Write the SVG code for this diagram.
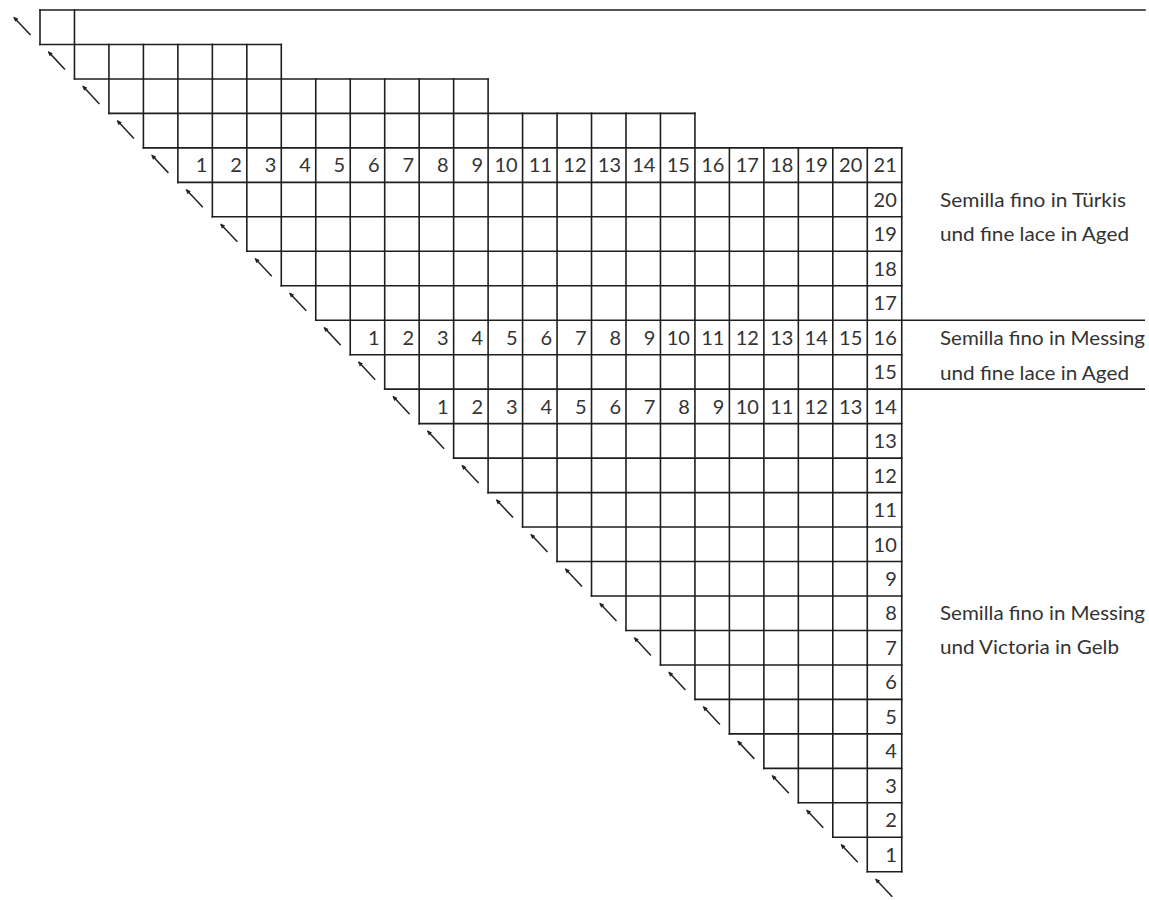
<svg xmlns="http://www.w3.org/2000/svg" width="1149" height="900" viewBox="0 0 1149 900">
<style>
.g line{stroke:#1e1e1e;stroke-width:1.6;stroke-linecap:square}
.sep{stroke:#1e1e1e;stroke-width:1.6}
.n{font-family:Lato,"Open Sans","Liberation Sans",sans-serif;font-size:20px;fill:#333;text-anchor:end}
.lbl{font-family:Lato,"Open Sans","Liberation Sans",sans-serif;font-size:20px;fill:#333}
.arr{stroke:#222;stroke-width:1.5}
</style>
<defs>
<marker id="ah" viewBox="0 0 10 10" refX="8" refY="5" markerWidth="6" markerHeight="5" orient="auto" markerUnits="userSpaceOnUse">
<path d="M0,0.5 L10,5 L0,9.5 z" fill="#222"/>
</marker>
<line id="arw" class="arr" x1="-9.5" y1="25" x2="-26" y2="7.4" marker-end="url(#ah)"/>
</defs>
<rect width="1149" height="900" fill="#fff"/>

<g id="grid" class="g">
<!-- horizontal -->
<line x1="40" y1="10" x2="1145" y2="10"/>
<line x1="40" y1="44.47" x2="281.29" y2="44.47"/>
<line x1="74.47" y1="78.94" x2="488.11" y2="78.94"/>
<line x1="108.94" y1="113.41" x2="694.93" y2="113.41"/>
<line x1="143.41" y1="147.88" x2="901.75" y2="147.88"/>
<line x1="177.88" y1="182.35" x2="901.75" y2="182.35"/>
<line x1="212.35" y1="216.82" x2="901.75" y2="216.82"/>
<line x1="246.82" y1="251.29" x2="901.75" y2="251.29"/>
<line x1="281.29" y1="285.76" x2="901.75" y2="285.76"/>
<line x1="315.76" y1="320.23" x2="901.75" y2="320.23"/>
<line x1="350.23" y1="354.70" x2="901.75" y2="354.70"/>
<line x1="384.70" y1="389.17" x2="901.75" y2="389.17"/>
<line x1="419.17" y1="423.64" x2="901.75" y2="423.64"/>
<line x1="453.64" y1="458.11" x2="901.75" y2="458.11"/>
<line x1="488.11" y1="492.58" x2="901.75" y2="492.58"/>
<line x1="522.58" y1="527.05" x2="901.75" y2="527.05"/>
<line x1="557.05" y1="561.52" x2="901.75" y2="561.52"/>
<line x1="591.52" y1="595.99" x2="901.75" y2="595.99"/>
<line x1="625.99" y1="630.46" x2="901.75" y2="630.46"/>
<line x1="660.46" y1="664.93" x2="901.75" y2="664.93"/>
<line x1="694.93" y1="699.40" x2="901.75" y2="699.40"/>
<line x1="729.40" y1="733.87" x2="901.75" y2="733.87"/>
<line x1="763.87" y1="768.34" x2="901.75" y2="768.34"/>
<line x1="798.34" y1="802.81" x2="901.75" y2="802.81"/>
<line x1="832.81" y1="837.28" x2="901.75" y2="837.28"/>
<line x1="867.28" y1="871.75" x2="901.75" y2="871.75"/>
<!-- vertical -->
<line x1="40" y1="10" x2="40" y2="44.47"/>
<line x1="74.47" y1="10" x2="74.47" y2="78.94"/>
<line x1="108.94" y1="44.47" x2="108.94" y2="113.41"/>
<line x1="143.41" y1="44.47" x2="143.41" y2="147.88"/>
<line x1="177.88" y1="44.47" x2="177.88" y2="182.35"/>
<line x1="212.35" y1="44.47" x2="212.35" y2="216.82"/>
<line x1="246.82" y1="44.47" x2="246.82" y2="251.29"/>
<line x1="281.29" y1="44.47" x2="281.29" y2="285.76"/>
<line x1="315.76" y1="78.94" x2="315.76" y2="320.23"/>
<line x1="350.23" y1="78.94" x2="350.23" y2="354.70"/>
<line x1="384.70" y1="78.94" x2="384.70" y2="389.17"/>
<line x1="419.17" y1="78.94" x2="419.17" y2="423.64"/>
<line x1="453.64" y1="78.94" x2="453.64" y2="458.11"/>
<line x1="488.11" y1="78.94" x2="488.11" y2="492.58"/>
<line x1="522.58" y1="113.41" x2="522.58" y2="527.05"/>
<line x1="557.05" y1="113.41" x2="557.05" y2="561.52"/>
<line x1="591.52" y1="113.41" x2="591.52" y2="595.99"/>
<line x1="625.99" y1="113.41" x2="625.99" y2="630.46"/>
<line x1="660.46" y1="113.41" x2="660.46" y2="664.93"/>
<line x1="694.93" y1="113.41" x2="694.93" y2="699.40"/>
<line x1="729.40" y1="147.88" x2="729.40" y2="733.87"/>
<line x1="763.87" y1="147.88" x2="763.87" y2="768.34"/>
<line x1="798.34" y1="147.88" x2="798.34" y2="802.81"/>
<line x1="832.81" y1="147.88" x2="832.81" y2="837.28"/>
<line x1="867.28" y1="147.88" x2="867.28" y2="871.75"/>
<line x1="901.75" y1="147.88" x2="901.75" y2="871.75"/>
</g>

<g id="separators">
<line class="sep" x1="901.75" y1="320.23" x2="1145" y2="320.23"/>
<line class="sep" x1="901.75" y1="389.17" x2="1145" y2="389.17"/>
</g>

<g id="arrows">
<use href="#arw" transform="translate(40,10)"/>
<use href="#arw" transform="translate(74.47,44.47)"/>
<use href="#arw" transform="translate(108.94,78.94)"/>
<use href="#arw" transform="translate(143.41,113.41)"/>
<use href="#arw" transform="translate(177.88,147.88)"/>
<use href="#arw" transform="translate(212.35,182.35)"/>
<use href="#arw" transform="translate(246.82,216.82)"/>
<use href="#arw" transform="translate(281.29,251.29)"/>
<use href="#arw" transform="translate(315.76,285.76)"/>
<use href="#arw" transform="translate(350.23,320.23)"/>
<use href="#arw" transform="translate(384.70,354.70)"/>
<use href="#arw" transform="translate(419.17,389.17)"/>
<use href="#arw" transform="translate(453.64,423.64)"/>
<use href="#arw" transform="translate(488.11,458.11)"/>
<use href="#arw" transform="translate(522.58,492.58)"/>
<use href="#arw" transform="translate(557.05,527.05)"/>
<use href="#arw" transform="translate(591.52,561.52)"/>
<use href="#arw" transform="translate(625.99,595.99)"/>
<use href="#arw" transform="translate(660.46,630.46)"/>
<use href="#arw" transform="translate(694.93,664.93)"/>
<use href="#arw" transform="translate(729.40,699.40)"/>
<use href="#arw" transform="translate(763.87,733.87)"/>
<use href="#arw" transform="translate(798.34,768.34)"/>
<use href="#arw" transform="translate(832.81,802.81)"/>
<use href="#arw" transform="translate(867.28,837.28)"/>
<use href="#arw" transform="translate(901.75,871.75)"/>
</g>

<g id="row-top-numbers" class="n">
<text x="207.35" y="172.4">1</text>
<text x="241.82" y="172.4">2</text>
<text x="276.29" y="172.4">3</text>
<text x="310.76" y="172.4">4</text>
<text x="345.23" y="172.4">5</text>
<text x="379.70" y="172.4">6</text>
<text x="414.17" y="172.4">7</text>
<text x="448.64" y="172.4">8</text>
<text x="483.11" y="172.4">9</text>
<text x="517.58" y="172.4">10</text>
<text x="552.05" y="172.4">11</text>
<text x="586.52" y="172.4">12</text>
<text x="620.99" y="172.4">13</text>
<text x="655.46" y="172.4">14</text>
<text x="689.93" y="172.4">15</text>
<text x="724.40" y="172.4">16</text>
<text x="758.87" y="172.4">17</text>
<text x="793.34" y="172.4">18</text>
<text x="827.81" y="172.4">19</text>
<text x="862.28" y="172.4">20</text>
<text x="896.75" y="172.4">21</text>
</g>

<g id="row-mid-numbers" class="n">
<text x="379.70" y="344.7">1</text>
<text x="414.17" y="344.7">2</text>
<text x="448.64" y="344.7">3</text>
<text x="483.11" y="344.7">4</text>
<text x="517.58" y="344.7">5</text>
<text x="552.05" y="344.7">6</text>
<text x="586.52" y="344.7">7</text>
<text x="620.99" y="344.7">8</text>
<text x="655.46" y="344.7">9</text>
<text x="689.93" y="344.7">10</text>
<text x="724.40" y="344.7">11</text>
<text x="758.87" y="344.7">12</text>
<text x="793.34" y="344.7">13</text>
<text x="827.81" y="344.7">14</text>
<text x="862.28" y="344.7">15</text>
<text x="896.75" y="344.7">16</text>
</g>

<g id="row-low-numbers" class="n">
<text x="448.64" y="413.7">1</text>
<text x="483.11" y="413.7">2</text>
<text x="517.58" y="413.7">3</text>
<text x="552.05" y="413.7">4</text>
<text x="586.52" y="413.7">5</text>
<text x="620.99" y="413.7">6</text>
<text x="655.46" y="413.7">7</text>
<text x="689.93" y="413.7">8</text>
<text x="724.40" y="413.7">9</text>
<text x="758.87" y="413.7">10</text>
<text x="793.34" y="413.7">11</text>
<text x="827.81" y="413.7">12</text>
<text x="862.28" y="413.7">13</text>
<text x="896.75" y="413.7">14</text>
</g>

<g id="right-column-numbers" class="n">
<text x="896.75" y="206.85">20</text>
<text x="896.75" y="241.32">19</text>
<text x="896.75" y="275.79">18</text>
<text x="896.75" y="310.26">17</text>
<text x="896.75" y="379.2">15</text>
<text x="896.75" y="448.14">13</text>
<text x="896.75" y="482.61">12</text>
<text x="896.75" y="517.08">11</text>
<text x="896.75" y="551.55">10</text>
<text x="896.75" y="586.02">9</text>
<text x="896.75" y="620.49">8</text>
<text x="896.75" y="654.96">7</text>
<text x="896.75" y="689.43">6</text>
<text x="896.75" y="723.9">5</text>
<text x="896.75" y="758.37">4</text>
<text x="896.75" y="792.84">3</text>
<text x="896.75" y="827.31">2</text>
<text x="896.75" y="861.78">1</text>
</g>

<g id="label-tuerkis" class="lbl">
<text x="940" y="207" textLength="186" lengthAdjust="spacingAndGlyphs">Semilla fino in Türkis</text>
<text x="940" y="241" textLength="189" lengthAdjust="spacingAndGlyphs">und fine lace in Aged</text>
</g>
<g id="label-messing-aged" class="lbl">
<text x="940" y="345" textLength="205" lengthAdjust="spacingAndGlyphs">Semilla fino in Messing</text>
<text x="940" y="380" textLength="189" lengthAdjust="spacingAndGlyphs">und fine lace in Aged</text>
</g>
<g id="label-messing-gelb" class="lbl">
<text x="940" y="620" textLength="205" lengthAdjust="spacingAndGlyphs">Semilla fino in Messing</text>
<text x="940" y="654" textLength="179" lengthAdjust="spacingAndGlyphs">und Victoria in Gelb</text>
</g>
</svg>
